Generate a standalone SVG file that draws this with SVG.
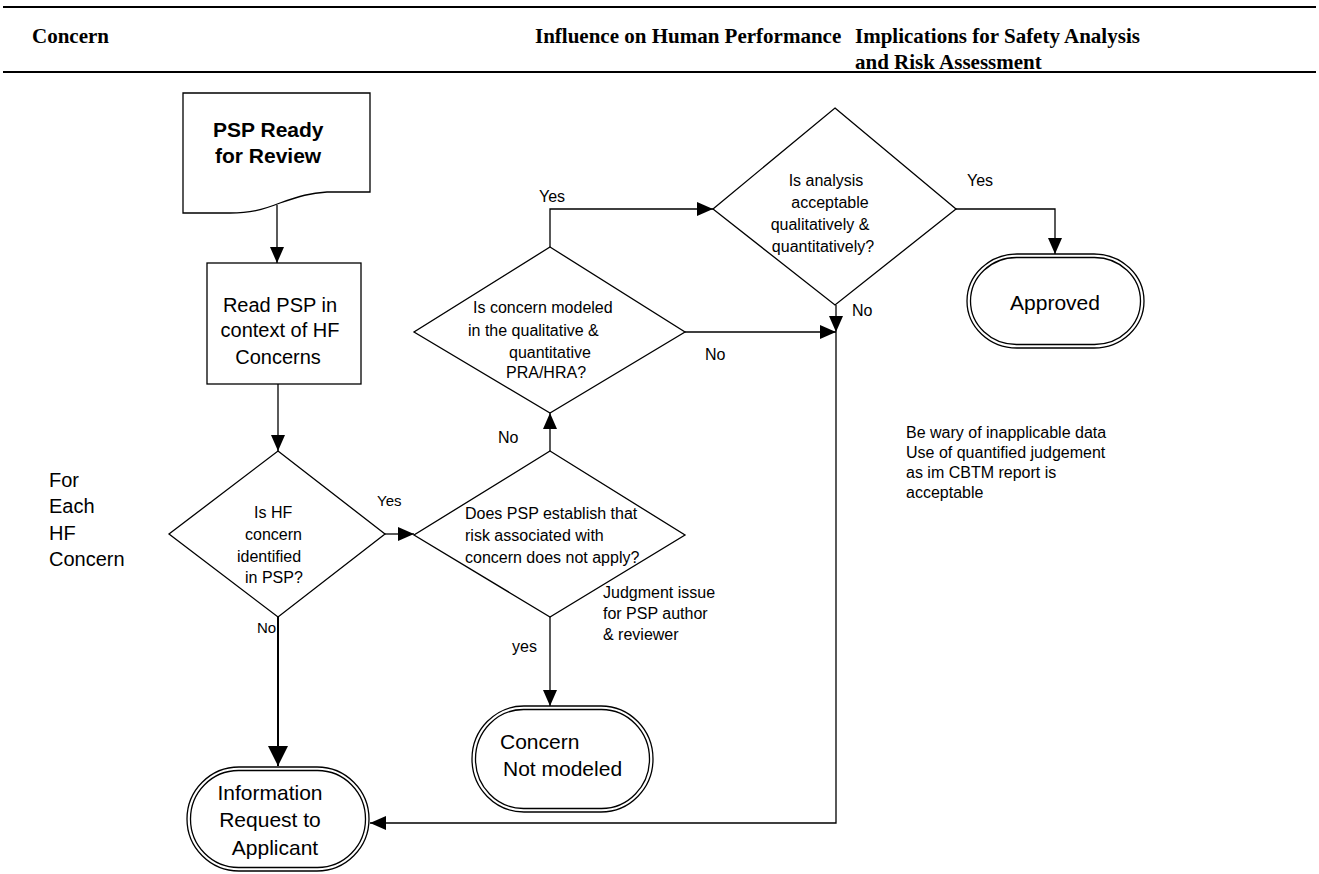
<svg xmlns="http://www.w3.org/2000/svg" width="1319" height="874" viewBox="0 0 1319 874">
<defs>
<style>
.hd{font-family:"Liberation Serif","Times New Roman",serif;font-weight:bold;font-size:21px;fill:#000}
.t{font-family:"Liberation Sans",Arial,sans-serif;font-size:16px;fill:#000}
.tb{font-family:"Liberation Sans",Arial,sans-serif;font-size:21px;fill:#000}
.b{font-family:"Liberation Sans",Arial,sans-serif;font-size:21px;font-weight:bold;fill:#000}
.s{fill:#fff;stroke:#000;stroke-width:1.3}
.c{fill:none;stroke:#000;stroke-width:1.3}
</style>
<marker id="ah" viewBox="0 0 16 14" refX="16" refY="7" markerWidth="16" markerHeight="14" markerUnits="userSpaceOnUse" orient="auto"><path d="M0,0 L16,7 L0,14 z" fill="#000"/></marker>
<marker id="ahb" viewBox="0 0 20 20" refX="20" refY="10" markerWidth="20" markerHeight="20" markerUnits="userSpaceOnUse" orient="auto"><path d="M0,0 L20,10 L0,20 z" fill="#000"/></marker>
</defs>
<rect width="1319" height="874" fill="#fff"/>
<g id="header">
<line x1="3" y1="7" x2="1316" y2="7" stroke="#000" stroke-width="2"/>
<line x1="3" y1="72" x2="1316" y2="72" stroke="#000" stroke-width="2"/>
<text class="hd" x="32" y="43">Concern</text>
<text class="hd" x="535" y="43">Influence on Human Performance</text>
<text class="hd" x="855" y="43">Implications for Safety Analysis</text>
<text class="hd" x="855" y="69">and Risk Assessment</text>
</g>
<g id="connectors">
<line class="c" x1="277" y1="205" x2="277" y2="263" marker-end="url(#ah)"/>
<line class="c" x1="278" y1="384" x2="278" y2="451" marker-end="url(#ah)"/>
<line class="c" x1="385" y1="534" x2="414" y2="534" marker-end="url(#ah)"/>
<line x1="278" y1="617" x2="278" y2="766" stroke="#000" stroke-width="2" marker-end="url(#ahb)"/>
<line class="c" x1="550" y1="617" x2="550" y2="706" marker-end="url(#ah)"/>
<line class="c" x1="550" y1="451" x2="550" y2="413" marker-end="url(#ah)"/>
<polyline class="c" points="550,247 550,209 713,209" marker-end="url(#ah)"/>
<line class="c" x1="685" y1="332" x2="836" y2="332" marker-end="url(#ah)"/>
<line class="c" x1="836" y1="305" x2="836" y2="332" marker-end="url(#ah)"/>
<polyline class="c" points="836,332 836,823 370,823" marker-end="url(#ah)"/>
<polyline class="c" points="956,209 1055,209 1055,254" marker-end="url(#ah)"/>
</g>
<g id="labels">
<text class="t" x="377" y="506" style="font-size:15px">Yes</text>
<text class="t" x="257" y="633" style="font-size:15px">No</text>
<text class="t" x="512" y="652">yes</text>
<text class="t" x="498" y="443">No</text>
<text class="t" x="539" y="202">Yes</text>
<text class="t" x="705" y="360">No</text>
<text class="t" x="852" y="316">No</text>
<text class="t" x="967" y="186">Yes</text>
</g>
<g id="for-each">
<text class="tb" style="font-size:20px" x="49" y="487">For</text>
<text class="tb" style="font-size:20px" x="49" y="513">Each</text>
<text class="tb" style="font-size:20px" x="49" y="540">HF</text>
<text class="tb" style="font-size:20px" x="49" y="566">Concern</text>
</g>
<g id="psp-ready">
<path class="s" d="M183,93 L370,93 L370,192 L327,192 C310,193 300,196 280,203 C262,210 250,213 230,213 L183,213 Z"/>
<text class="b" x="213" y="137">PSP Ready</text>
<text class="b" x="215" y="163">for Review</text>
</g>
<g id="read-psp">
<rect class="s" x="207" y="263" width="154" height="121"/>
<text class="tb" style="font-size:20px" x="280" y="312" text-anchor="middle">Read PSP in</text>
<text class="tb" style="font-size:20px" x="280" y="337" text-anchor="middle">context of HF</text>
<text class="tb" style="font-size:20px" x="278" y="364" text-anchor="middle">Concerns</text>
</g>
<g id="hf-identified">
<polygon class="s" points="278,451 385,534 278,617 169,534"/>
<text class="t" x="254" y="518">Is HF</text>
<text class="t" x="245" y="540">concern</text>
<text class="t" x="237" y="562">identified</text>
<text class="t" x="245" y="583">in PSP?</text>
</g>
<g id="risk-apply">
<polygon class="s" points="550,451 685,535 550,617 414,535"/>
<text class="t" x="465" y="519">Does PSP establish that</text>
<text class="t" x="465" y="541">risk associated with</text>
<text class="t" x="465" y="563">concern does not apply?</text>
</g>
<g id="judgment-note">
<text class="t" x="603" y="598">Judgment issue</text>
<text class="t" x="603" y="619">for PSP author</text>
<text class="t" x="603" y="640">&amp; reviewer</text>
</g>
<g id="concern-modeled">
<polygon class="s" points="550,247 685,332 550,413 414,332"/>
<text class="t" x="473" y="313">Is concern modeled</text>
<text class="t" x="468" y="336">in the qualitative &amp;</text>
<text class="t" x="509" y="358">quantitative</text>
<text class="t" x="506" y="378">PRA/HRA?</text>
</g>
<g id="analysis-acceptable">
<polygon class="s" points="835,108 956,209 835,305 713,209"/>
<text class="t" x="826" y="186" text-anchor="middle">Is analysis</text>
<text class="t" x="830" y="208" text-anchor="middle">acceptable</text>
<text class="t" x="820" y="230" text-anchor="middle">qualitatively &amp;</text>
<text class="t" x="823" y="252" text-anchor="middle">quantitatively?</text>
</g>
<g id="approved">
<rect class="s" x="967" y="254" width="177" height="94" rx="50" ry="47"/>
<rect class="s" x="970.5" y="257.5" width="170" height="87" rx="46" ry="43.5"/>
<text class="tb" x="1055" y="310" text-anchor="middle">Approved</text>
</g>
<g id="concern-not-modeled">
<rect class="s" x="472" y="706" width="181" height="106" rx="52" ry="53"/>
<rect class="s" x="475.5" y="709.5" width="174" height="99" rx="48" ry="49.5"/>
<text class="tb" x="500" y="749">Concern</text>
<text class="tb" x="503" y="776">Not modeled</text>
</g>
<g id="info-request">
<rect class="s" x="187" y="767" width="182" height="104" rx="52" ry="52"/>
<rect class="s" x="190.5" y="770.5" width="175" height="97" rx="48" ry="48.5"/>
<text class="tb" x="270" y="800" text-anchor="middle">Information</text>
<text class="tb" x="270" y="827" text-anchor="middle">Request to</text>
<text class="tb" x="275" y="855" text-anchor="middle">Applicant</text>
</g>
<g id="data-note">
<text class="t" x="906" y="438">Be wary of inapplicable data</text>
<text class="t" x="906" y="458">Use of quantified judgement</text>
<text class="t" x="906" y="478">as im CBTM report is</text>
<text class="t" x="906" y="498">acceptable</text>
</g>
</svg>
